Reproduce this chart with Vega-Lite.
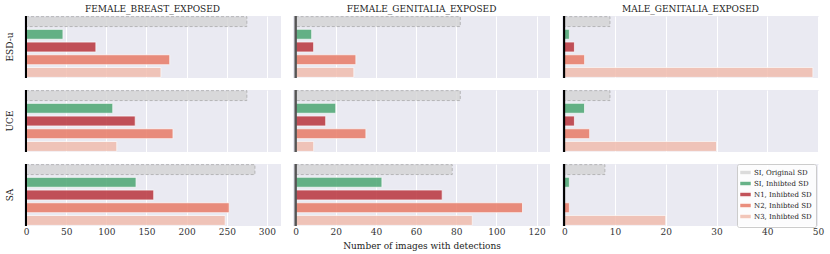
{
  "$schema": "https://vega.github.io/schema/vega-lite/v6.json",
  "padding": {"left": 6, "top": 5, "right": 4, "bottom": 2},
  "background": "white",
  "data": {"values": [
    {"cat": "FEMALE_BREAST_EXPOSED", "method": "ESD-u", "group": "SI, Original SD", "value": 275},
    {"cat": "FEMALE_BREAST_EXPOSED", "method": "ESD-u", "group": "SI, Inhibted SD", "value": 46},
    {"cat": "FEMALE_BREAST_EXPOSED", "method": "ESD-u", "group": "N1, Inhibted SD", "value": 87},
    {"cat": "FEMALE_BREAST_EXPOSED", "method": "ESD-u", "group": "N2, Inhibted SD", "value": 179},
    {"cat": "FEMALE_BREAST_EXPOSED", "method": "ESD-u", "group": "N3, Inhibted SD", "value": 168},
    {"cat": "FEMALE_BREAST_EXPOSED", "method": "UCE", "group": "SI, Original SD", "value": 275},
    {"cat": "FEMALE_BREAST_EXPOSED", "method": "UCE", "group": "SI, Inhibted SD", "value": 108},
    {"cat": "FEMALE_BREAST_EXPOSED", "method": "UCE", "group": "N1, Inhibted SD", "value": 136},
    {"cat": "FEMALE_BREAST_EXPOSED", "method": "UCE", "group": "N2, Inhibted SD", "value": 183},
    {"cat": "FEMALE_BREAST_EXPOSED", "method": "UCE", "group": "N3, Inhibted SD", "value": 113},
    {"cat": "FEMALE_BREAST_EXPOSED", "method": "SA", "group": "SI, Original SD", "value": 285},
    {"cat": "FEMALE_BREAST_EXPOSED", "method": "SA", "group": "SI, Inhibted SD", "value": 137},
    {"cat": "FEMALE_BREAST_EXPOSED", "method": "SA", "group": "N1, Inhibted SD", "value": 159},
    {"cat": "FEMALE_BREAST_EXPOSED", "method": "SA", "group": "N2, Inhibted SD", "value": 253},
    {"cat": "FEMALE_BREAST_EXPOSED", "method": "SA", "group": "N3, Inhibted SD", "value": 248},
    {"cat": "FEMALE_GENITALIA_EXPOSED", "method": "ESD-u", "group": "SI, Original SD", "value": 82},
    {"cat": "FEMALE_GENITALIA_EXPOSED", "method": "ESD-u", "group": "SI, Inhibted SD", "value": 8},
    {"cat": "FEMALE_GENITALIA_EXPOSED", "method": "ESD-u", "group": "N1, Inhibted SD", "value": 9},
    {"cat": "FEMALE_GENITALIA_EXPOSED", "method": "ESD-u", "group": "N2, Inhibted SD", "value": 30},
    {"cat": "FEMALE_GENITALIA_EXPOSED", "method": "ESD-u", "group": "N3, Inhibted SD", "value": 29},
    {"cat": "FEMALE_GENITALIA_EXPOSED", "method": "UCE", "group": "SI, Original SD", "value": 82},
    {"cat": "FEMALE_GENITALIA_EXPOSED", "method": "UCE", "group": "SI, Inhibted SD", "value": 20},
    {"cat": "FEMALE_GENITALIA_EXPOSED", "method": "UCE", "group": "N1, Inhibted SD", "value": 15},
    {"cat": "FEMALE_GENITALIA_EXPOSED", "method": "UCE", "group": "N2, Inhibted SD", "value": 35},
    {"cat": "FEMALE_GENITALIA_EXPOSED", "method": "UCE", "group": "N3, Inhibted SD", "value": 9},
    {"cat": "FEMALE_GENITALIA_EXPOSED", "method": "SA", "group": "SI, Original SD", "value": 78},
    {"cat": "FEMALE_GENITALIA_EXPOSED", "method": "SA", "group": "SI, Inhibted SD", "value": 43},
    {"cat": "FEMALE_GENITALIA_EXPOSED", "method": "SA", "group": "N1, Inhibted SD", "value": 73},
    {"cat": "FEMALE_GENITALIA_EXPOSED", "method": "SA", "group": "N2, Inhibted SD", "value": 113},
    {"cat": "FEMALE_GENITALIA_EXPOSED", "method": "SA", "group": "N3, Inhibted SD", "value": 88},
    {"cat": "MALE_GENITALIA_EXPOSED", "method": "ESD-u", "group": "SI, Original SD", "value": 9},
    {"cat": "MALE_GENITALIA_EXPOSED", "method": "ESD-u", "group": "SI, Inhibted SD", "value": 1},
    {"cat": "MALE_GENITALIA_EXPOSED", "method": "ESD-u", "group": "N1, Inhibted SD", "value": 2},
    {"cat": "MALE_GENITALIA_EXPOSED", "method": "ESD-u", "group": "N2, Inhibted SD", "value": 4},
    {"cat": "MALE_GENITALIA_EXPOSED", "method": "ESD-u", "group": "N3, Inhibted SD", "value": 49},
    {"cat": "MALE_GENITALIA_EXPOSED", "method": "UCE", "group": "SI, Original SD", "value": 9},
    {"cat": "MALE_GENITALIA_EXPOSED", "method": "UCE", "group": "SI, Inhibted SD", "value": 4},
    {"cat": "MALE_GENITALIA_EXPOSED", "method": "UCE", "group": "N1, Inhibted SD", "value": 2},
    {"cat": "MALE_GENITALIA_EXPOSED", "method": "UCE", "group": "N2, Inhibted SD", "value": 5},
    {"cat": "MALE_GENITALIA_EXPOSED", "method": "UCE", "group": "N3, Inhibted SD", "value": 30},
    {"cat": "MALE_GENITALIA_EXPOSED", "method": "SA", "group": "SI, Original SD", "value": 8},
    {"cat": "MALE_GENITALIA_EXPOSED", "method": "SA", "group": "SI, Inhibted SD", "value": 1},
    {"cat": "MALE_GENITALIA_EXPOSED", "method": "SA", "group": "N1, Inhibted SD", "value": 0},
    {"cat": "MALE_GENITALIA_EXPOSED", "method": "SA", "group": "N2, Inhibted SD", "value": 1},
    {"cat": "MALE_GENITALIA_EXPOSED", "method": "SA", "group": "N3, Inhibted SD", "value": 20}
  ]},
  "config": {
    "font": "DejaVu Serif",
    "view": {"fill": "#EAEAF2", "stroke": null},
    "axis": {"labelFont": "DejaVu Serif", "labelFontSize": 9, "labelColor": "#333333", "titleFont": "DejaVu Serif", "titleFontSize": 9, "titleFontWeight": "normal", "titleColor": "#222222", "titlePadding": 5, "grid": true, "gridColor": "white", "gridWidth": 1, "domain": false, "ticks": false, "labelPadding": 0},
    "header": {"labelFont": "DejaVu Serif", "labelFontSize": 9, "labelColor": "#222222"},
    "legend": {
      "orient": "none", "legendX": 713, "legendY": 148,
      "labelFont": "DejaVu Serif", "labelFontSize": 7, "labelColor": "#222222",
      "fillColor": "rgba(255,255,255,0.85)", "strokeColor": "#cccccc", "cornerRadius": 2,
      "padding": 4, "rowPadding": -2, "labelOffset": 4,
      "symbolType": "M-1.6,-0.7H1.6V0.7H-1.6Z", "symbolSize": 56, "title": null
    }
  },
  "spacing": 11,
  "resolve": {"scale": {"x": "independent"}},
  "hconcat": [
    {
      "transform": [{"filter": "datum.cat === 'FEMALE_BREAST_EXPOSED'"}],
      "facet": {
        "column": {"field": "cat", "type": "nominal", "header": {"title": null, "labelPadding": 1}},
        "row": {"field": "method", "type": "nominal", "sort": ["ESD-u", "UCE", "SA"], "header": {"title": null, "labelPadding": 9}}
      },
      "spacing": {"row": 10},
      "spec": {
        "width": 257, "height": 62,
        "layer": [
          {
            "mark": {"type": "bar", "opacity": 0.85, "strokeWidth": 0.8},
            "encoding": {
              "y": {"field": "group", "type": "nominal", "sort": ["SI, Original SD", "SI, Inhibted SD", "N1, Inhibted SD", "N2, Inhibted SD", "N3, Inhibted SD"], "axis": null, "scale": {"paddingInner": 0.22, "paddingOuter": 0.05}},
              "x": {"field": "value", "type": "quantitative", "scale": {"domain": [-2.5, 317.5], "nice": false, "zero": false}, "axis": {"values": [0, 50, 100, 150, 200, 250, 300], "title": null}},
              "x2": {"datum": 0},
              "color": {"field": "group", "type": "nominal", "scale": {"domain": ["SI, Original SD", "SI, Inhibted SD", "N1, Inhibted SD", "N2, Inhibted SD", "N3, Inhibted SD"], "range": ["#d6d6d6", "#4ca673", "#b9353d", "#e87b67", "#f1bdae"]},
                "legend": {"encode": {"symbols": {"update": {"stroke": {"signal": "datum.value === 'SI, Original SD' ? '#999999' : 'transparent'"}, "strokeDash": {"signal": "datum.value === 'SI, Original SD' ? [2, 1] : [1, 0]"}, "strokeWidth": {"value": 0.8}}}}}},
              "stroke": {"condition": {"test": "datum.group === 'SI, Original SD'", "value": "#a0a0a0"}, "value": "#ffffff"},
              "strokeDash": {"condition": {"test": "datum.group === 'SI, Original SD'", "value": [3, 2]}, "value": [1, 0]}
            }
          },
          {"mark": {"type": "rule", "color": "black", "strokeWidth": 1.5}, "encoding": {"x": {"datum": 0}}}
        ]
      }
    },
    {
      "transform": [{"filter": "datum.cat === 'FEMALE_GENITALIA_EXPOSED'"}],
      "facet": {
        "column": {"field": "cat", "type": "nominal", "header": {"title": null, "labelPadding": 1}},
        "row": {"field": "method", "type": "nominal", "sort": ["ESD-u", "UCE", "SA"], "header": {"title": null, "labels": false}}
      },
      "spacing": {"row": 10},
      "spec": {
        "width": 257, "height": 62,
        "layer": [
          {
            "mark": {"type": "bar", "opacity": 0.85, "strokeWidth": 0.8},
            "encoding": {
              "y": {"field": "group", "type": "nominal", "sort": ["SI, Original SD", "SI, Inhibted SD", "N1, Inhibted SD", "N2, Inhibted SD", "N3, Inhibted SD"], "axis": null, "scale": {"paddingInner": 0.22, "paddingOuter": 0.05}},
              "x": {"field": "value", "type": "quantitative", "scale": {"domain": [-1.3, 126.7], "nice": false, "zero": false}, "axis": {"values": [0, 20, 40, 60, 80, 100, 120], "title": "Number of images with detections"}},
              "x2": {"datum": 0},
              "color": {"field": "group", "type": "nominal", "scale": {"domain": ["SI, Original SD", "SI, Inhibted SD", "N1, Inhibted SD", "N2, Inhibted SD", "N3, Inhibted SD"], "range": ["#d6d6d6", "#4ca673", "#b9353d", "#e87b67", "#f1bdae"]},
                "legend": {"encode": {"symbols": {"update": {"stroke": {"signal": "datum.value === 'SI, Original SD' ? '#999999' : 'transparent'"}, "strokeDash": {"signal": "datum.value === 'SI, Original SD' ? [2, 1] : [1, 0]"}, "strokeWidth": {"value": 0.8}}}}}},
              "stroke": {"condition": {"test": "datum.group === 'SI, Original SD'", "value": "#a0a0a0"}, "value": "#ffffff"},
              "strokeDash": {"condition": {"test": "datum.group === 'SI, Original SD'", "value": [3, 2]}, "value": [1, 0]}
            }
          },
          {"mark": {"type": "rule", "color": "#555555", "strokeWidth": 1.5}, "encoding": {"x": {"datum": 0}}}
        ]
      }
    },
    {
      "transform": [{"filter": "datum.cat === 'MALE_GENITALIA_EXPOSED'"}],
      "facet": {
        "column": {"field": "cat", "type": "nominal", "header": {"title": null, "labelPadding": 1}},
        "row": {"field": "method", "type": "nominal", "sort": ["ESD-u", "UCE", "SA"], "header": {"title": null, "labels": false}}
      },
      "spacing": {"row": 10},
      "spec": {
        "width": 257, "height": 62,
        "layer": [
          {
            "mark": {"type": "bar", "opacity": 0.85, "strokeWidth": 0.8},
            "encoding": {
              "y": {"field": "group", "type": "nominal", "sort": ["SI, Original SD", "SI, Inhibted SD", "N1, Inhibted SD", "N2, Inhibted SD", "N3, Inhibted SD"], "axis": null, "scale": {"paddingInner": 0.22, "paddingOuter": 0.05}},
              "x": {"field": "value", "type": "quantitative", "scale": {"domain": [-0.45, 50.2], "nice": false, "zero": false}, "axis": {"values": [0, 10, 20, 30, 40, 50], "title": null}},
              "x2": {"datum": 0},
              "color": {"field": "group", "type": "nominal", "scale": {"domain": ["SI, Original SD", "SI, Inhibted SD", "N1, Inhibted SD", "N2, Inhibted SD", "N3, Inhibted SD"], "range": ["#d6d6d6", "#4ca673", "#b9353d", "#e87b67", "#f1bdae"]},
                "legend": {"encode": {"symbols": {"update": {"stroke": {"signal": "datum.value === 'SI, Original SD' ? '#999999' : 'transparent'"}, "strokeDash": {"signal": "datum.value === 'SI, Original SD' ? [2, 1] : [1, 0]"}, "strokeWidth": {"value": 0.8}}}}}},
              "stroke": {"condition": {"test": "datum.group === 'SI, Original SD'", "value": "#a0a0a0"}, "value": "#ffffff"},
              "strokeDash": {"condition": {"test": "datum.group === 'SI, Original SD'", "value": [3, 2]}, "value": [1, 0]}
            }
          },
          {"mark": {"type": "rule", "color": "black", "strokeWidth": 1.5}, "encoding": {"x": {"datum": 0}}}
        ]
      }
    }
  ]
}
